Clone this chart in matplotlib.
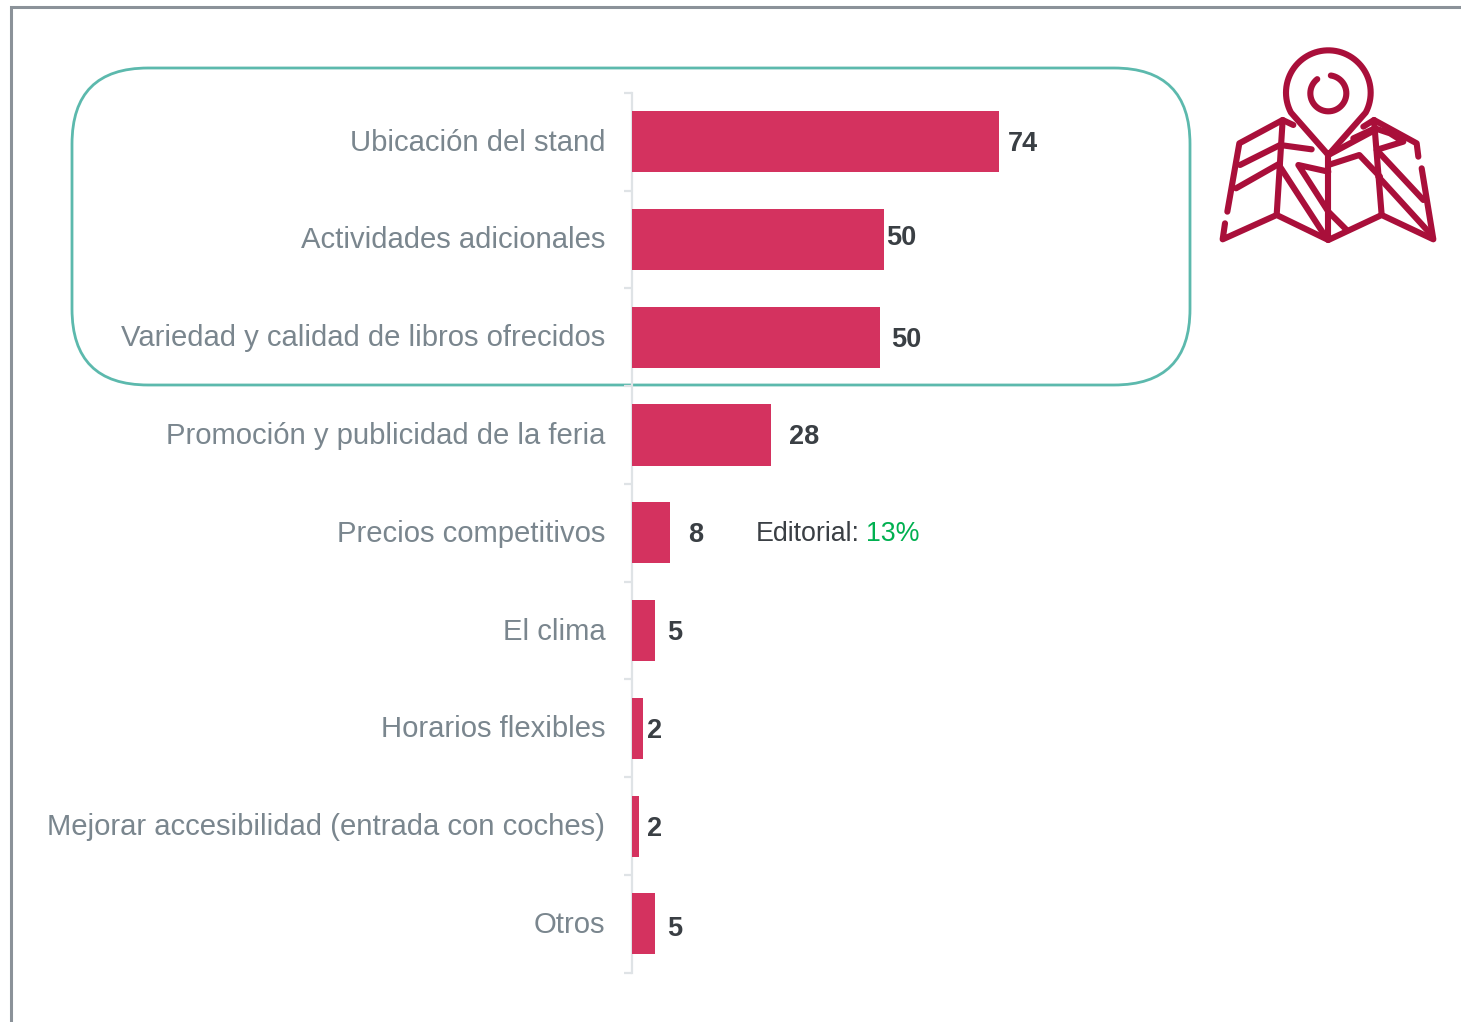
import numpy as np
import matplotlib
matplotlib.use('Agg')
import matplotlib.pyplot as plt
from matplotlib.patches import FancyBboxPatch
from matplotlib.transforms import ScaledTranslation

categorias = ['Ubicación del stand', 'Actividades adicionales',
              'Variedad y calidad de libros ofrecidos',
              'Promoción y publicidad de la feria', 'Precios competitivos',
              'El clima', 'Horarios flexibles',
              'Mejorar accesibilidad (entrada con coches)', 'Otros']
valores = [74.0, 50.7, 49.9, 28.0, 7.7, 4.7, 2.2, 1.5, 4.7]
etiquetas = ['74', '50', '50', '28', '8', '5', '2', '2', '5']

W, H = 1461, 1022
ROJO = '#d4325f'
GRIS = '#7a868e'
OSCURO = '#3a3f44'
ICONO = '#a90f3a'

plt.rcParams['font.family'] = ['Liberation Sans', 'DejaVu Sans']
fig = plt.figure(figsize=(W / 100, H / 100), dpi=100)

# capa en pixeles para marco, recuadro e icono
bg = fig.add_axes([0, 0, 1, 1])
bg.set_xlim(0, W)
bg.set_ylim(H, 0)
bg.axis('off')
bg.plot([11, 11, W], [H, 7, 7], color='#8b9299', lw=2.2, solid_joinstyle='miter')
r = 76
bg.add_patch(FancyBboxPatch((72 + r, 68 + r), 1118 - 2 * r, 317 - 2 * r,
                            boxstyle=f'round,pad={r},rounding_size={r}',
                            fc='none', ec='#5cb9ad', lw=2))

# 1. Grafico de barras
x0, x1 = 631.6, 1461
y0, y1 = 92.8, 972.8
ax = fig.add_axes([x0 / W, 1 - y1 / H, (x1 - x0) / W, (y1 - y0) / H])
ax.patch.set_alpha(0)
pos = np.arange(len(categorias))
ax.barh(pos, valores, height=0.625, color=ROJO, zorder=3)
ax.set_xlim(0, (x1 - x0) / 4.97)
ax.set_ylim(len(categorias) - 0.5, -0.5)
for s in ['top', 'right', 'bottom']:
    ax.spines[s].set_visible(False)
ax.spines['left'].set_color('#dfe3e6')
ax.spines['left'].set_linewidth(1.6)
ax.set_xticks([])
ax.set_yticks(pos)
ax.set_yticklabels(categorias, fontsize=21.1, color=GRIS)
ax.tick_params(axis='y', length=0, pad=19)
subir = ScaledTranslation(0, 2 / 100, fig.dpi_scale_trans)
for lab in ax.get_yticklabels():
    lab.set_transform(lab.get_transform() + subir)
ax.set_yticks(np.arange(len(categorias) + 1) - 0.5, minor=True)
ax.tick_params(axis='y', which='minor', length=6, width=1.6, color='#dfe3e6')

# desplazamiento de cada etiqueta respecto al final de la barra (pixeles)
despl_x = [8, 3, 12, 18, 18, 12, 4, 8, 12]
despl_y = [-2, 1, -3, -2, -2, -2, -3, -3, -5]
for i, et in enumerate(etiquetas):
    ax.annotate(et, (valores[i], i), xytext=(despl_x[i], despl_y[i]),
                textcoords='offset pixels', va='center', ha='left',
                fontsize=19.5, fontweight='bold', color=OSCURO)

bg.text(756, 534, 'Editorial:', fontsize=19.3, color=OSCURO, va='center')
bg.text(866, 534, '13%', fontsize=19.3, color='#00b050', va='center')

# 2. Icono del mapa (coordenadas de dibujo, no son datos)
def trazo(puntos):
    p = np.array(puntos, dtype=float)
    bg.plot(1200 + p[:, 0] / 3, 30 + p[:, 1] / 3, color=ICONO, lw=4.4,
            solid_capstyle='round', solid_joinstyle='round', zorder=5)

ang = np.radians(np.linspace(-208, 28, 60))
arco = np.c_[385 + 127 * np.cos(ang), 188 + 127 * np.sin(ang)]
trazo([(385, 375)] + [tuple(a) for a in arco] + [(385, 375)])
ang = np.radians(np.linspace(-82, 232, 50))
trazo(np.c_[385 + 54 * np.cos(ang), 190 + 54 * np.sin(ang)])

trazo([(82, 545), (118, 340), (248, 270), (280, 285)])
trazo([(75, 580), (68, 628), (230, 555), (385, 630), (545, 555), (700, 628), (665, 415)])
trazo([(655, 380), (650, 340), (522, 270), (490, 290)])
trazo([(248, 270), (230, 555)])
trazo([(522, 270), (545, 555)])
trazo([(385, 375), (385, 630)])
trazo([(120, 405), (240, 345), (335, 358)])
trazo([(108, 475), (240, 400)])
trazo([(240, 410), (370, 610)])
trazo([(385, 425), (295, 405), (385, 545), (440, 600)])
trazo([(385, 405), (478, 375), (540, 440)])
trazo([(385, 375), (525, 300)])
trazo([(460, 325), (525, 295), (570, 310), (610, 335), (535, 358)])
trazo([(530, 360), (670, 510)])
trazo([(535, 440), (690, 610)])

fig.savefig('out.png', dpi=100)
